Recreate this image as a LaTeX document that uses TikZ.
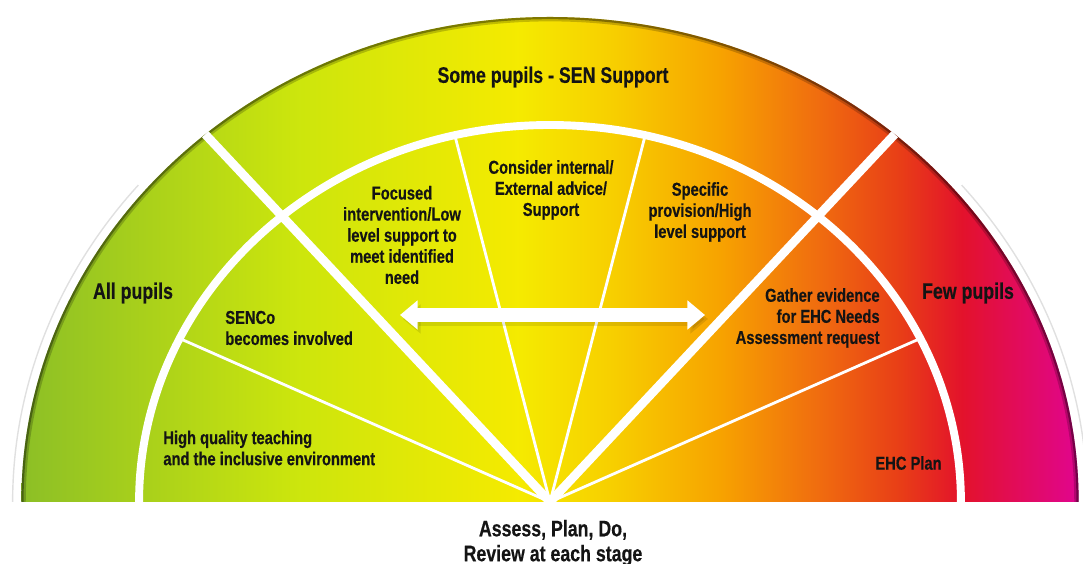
\documentclass[tikz,border=0pt]{standalone}
\usepackage{fontspec}
\newfontfamily\chartfont{Liberation Sans}[FakeStretch=0.79, BoldFeatures={FakeBold=0.4}]
\usetikzlibrary{arrows.meta}
\definecolor{inkgrey}{HTML}{141414}
\pgfdeclarehorizontalshading{pupilshade}{100bp}{
  rgb(0bp)=(0.55,0.75,0.15);
  rgb(25bp)=(0.55,0.75,0.15);
  rgb(38bp)=(0.80,0.90,0.05);
  rgb(48.5bp)=(0.96,0.92,0.0);
  rgb(53bp)=(0.97,0.81,0.0);
  rgb(58bp)=(0.97,0.64,0.0);
  rgb(62.8bp)=(0.94,0.42,0.06);
  rgb(66.6bp)=(0.91,0.24,0.09);
  rgb(69.5bp)=(0.89,0.07,0.17);
  rgb(75bp)=(0.88,0.02,0.56);
  rgb(100bp)=(0.88,0.02,0.56)}
\tikzset{
  bigtext/.style={font=\chartfont\bfseries\fontsize{12.8}{14.2}\selectfont, text=inkgrey, inner sep=0pt},
  smalltext/.style={font=\chartfont\bfseries\fontsize{10.6}{12}\selectfont, text=inkgrey, inner sep=0pt},
  ringline/.style={white, line width=4.5pt},
  bigspoke/.style={white, line width=5pt},
  thinspoke/.style={white, line width=1.6pt},
  bothway/.style={line width=8pt, {Triangle[width=16pt,length=10pt]}-{Triangle[width=16pt,length=10pt]}}
}
\begin{document}
\begin{tikzpicture}[x=0.02cm,y=0.02cm]
\useasboundingbox (0,0) rectangle (1083,564);
\coordinate (C) at (550,62);
\begin{scope}[shift={(C)}, xscale=1.09]
  \draw[black!12, line width=0.8pt] (180:493) arc (180:140:493);
  \draw[black!12, line width=0.8pt] (40:493) arc (40:0:493);
  \shade[shading=pupilshade] (485,0) arc (0:180:485) -- cycle;
  \begin{scope}
    \clip (485,0) arc (0:180:485) -- cycle;
    \draw[black, opacity=0.2, line width=5pt] (485,0) arc (0:180:485);
    \draw[black, opacity=0.35, line width=2.5pt] (485,0) arc (0:180:485);
  \end{scope}
  \draw[ringline] (377,0) arc (0:180:377);
  \foreach \a in {49.3,130.7}
    \draw[bigspoke] (0,0) -- (\a:485);
  \foreach \a in {25.7,76.6,103.4,154.3}
    \draw[thinspoke] (0,0) -- (\a:377);
\end{scope}
\coordinate (arrL) at (400,249);
\coordinate (arrR) at (705,249);
\draw[bothway, black, opacity=0.1] ([shift={(3,-4)}]arrL) -- ([shift={(3,-4)}]arrR);
\draw[bothway, white] (arrL) -- (arrR);
\node[bigtext] (some) at (553,487) {Some pupils - SEN Support};
\node[bigtext] (all) at (133,271) {All pupils};
\node[bigtext] (few) at (968,271) {Few pupils};
\node[smalltext, align=center] (focus) at (402,329) {Focused\\intervention/Low\\level support to\\meet identified\\need};
\node[smalltext, align=center] (advice) at (551,374) {Consider internal/\\External advice/\\Support};
\node[smalltext, align=center] (specific) at (700,352) {Specific\\provision/High\\level support};
\node[smalltext, align=left, anchor=west] (senco) at (225,236) {SENCo\\becomes involved};
\node[smalltext, align=left, anchor=west] (quality) at (163,116) {High quality teaching\\and the inclusive environment};
\node[smalltext, align=right, anchor=east] (gather) at (880,246) {Gather evidence\\for EHC Needs\\Assessment request};
\node[smalltext, anchor=east] (plan) at (942,101) {EHC Plan};
\node[bigtext, align=center] (assess) at (553,21) {Assess, Plan, Do,\\Review at each stage};
\end{tikzpicture}
\end{document}
